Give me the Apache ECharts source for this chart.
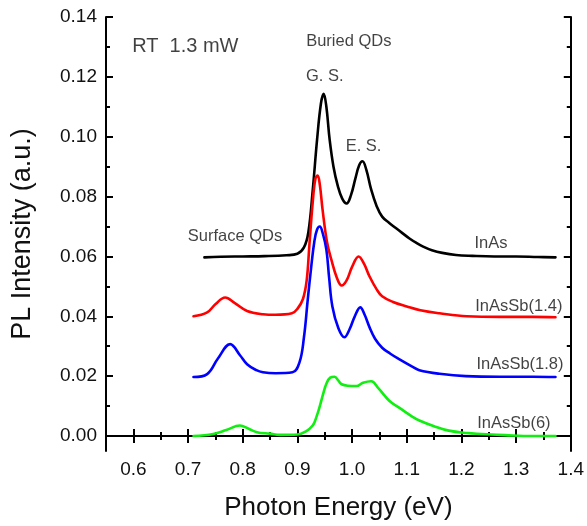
<!DOCTYPE html>
<html>
<head>
<meta charset="utf-8">
<script src="https://cdn.jsdelivr.net/npm/echarts@6/dist/echarts.min.js"></script>
<style>
  html, body { margin: 0; padding: 0; background: #fff; }
  #main { width: 587px; height: 526px; }
</style>
</head>
<body>
<div id="main"></div>
<script>
// tick values
var xMajor = [0.6, 0.7, 0.8, 0.9, 1.0, 1.1, 1.2, 1.3, 1.4];
var xMinor = [0.55, 0.65, 0.75, 0.85, 0.95, 1.05, 1.15, 1.25, 1.35];
var yMajor = [0, 0.02, 0.04, 0.06, 0.08, 0.10, 0.12, 0.14];
var yMinor = [0.01, 0.03, 0.05, 0.07, 0.09, 0.11, 0.13];

// InAs (black)
var inAsX = [0.73, 0.76, 0.80, 0.84, 0.88, 0.90, 0.912, 0.92, 0.928, 0.936, 0.943, 0.948, 0.953, 0.959, 0.966, 0.974, 0.982, 0.99, 0.998, 1.006, 1.013, 1.019, 1.026, 1.035, 1.045, 1.055, 1.068, 1.08, 1.092, 1.105, 1.117, 1.13, 1.146, 1.165, 1.19, 1.22, 1.26, 1.30, 1.34, 1.372];
var inAsY = [0.0597, 0.0599, 0.0600, 0.0601, 0.0604, 0.0609, 0.0630, 0.0680, 0.0820, 0.0990, 0.1110, 0.1143, 0.1100, 0.0990, 0.0900, 0.0835, 0.0793, 0.0777, 0.0805, 0.0860, 0.0905, 0.0918, 0.0890, 0.0823, 0.0768, 0.0733, 0.0712, 0.0695, 0.0678, 0.0660, 0.0646, 0.0633, 0.0621, 0.0612, 0.0605, 0.0602, 0.0600, 0.0600, 0.0598, 0.0597];

// InAsSb(1.4) (red)
var sb14X = [0.71, 0.735, 0.75, 0.768, 0.785, 0.808, 0.837, 0.86, 0.89, 0.90, 0.91, 0.917, 0.922, 0.928, 0.933, 0.937, 0.941, 0.946, 0.954, 0.962, 0.972, 0.981, 0.99, 1.0, 1.012, 1.022, 1.032, 1.045, 1.055, 1.075, 1.1, 1.125, 1.16, 1.21, 1.27, 1.33, 1.372];
var sb14Y = [0.0400, 0.0413, 0.0440, 0.0463, 0.0445, 0.0418, 0.0407, 0.0405, 0.0410, 0.0425, 0.0457, 0.0520, 0.0640, 0.0780, 0.0860, 0.0870, 0.0840, 0.0757, 0.0650, 0.0590, 0.0530, 0.0503, 0.0520, 0.0565, 0.0600, 0.0575, 0.0533, 0.0490, 0.0467, 0.0448, 0.0433, 0.0420, 0.0410, 0.0400, 0.0398, 0.0398, 0.0397];

// InAsSb(1.8) (blue)
var sb18X = [0.71, 0.735, 0.755, 0.777, 0.795, 0.808, 0.825, 0.837, 0.86, 0.891, 0.904, 0.912, 0.919, 0.925, 0.931, 0.936, 0.941, 0.946, 0.953, 0.958, 0.964, 0.975, 0.986, 0.995, 1.005, 1.015, 1.023, 1.032, 1.042, 1.055, 1.07, 1.086, 1.11, 1.123, 1.16, 1.208, 1.27, 1.33, 1.372];
var sb18Y = [0.0197, 0.0207, 0.0260, 0.0307, 0.0270, 0.0240, 0.0220, 0.0213, 0.0210, 0.0213, 0.0247, 0.0330, 0.0457, 0.0560, 0.0650, 0.0690, 0.0700, 0.0680, 0.0623, 0.0530, 0.0433, 0.0360, 0.0330, 0.0355, 0.0400, 0.0430, 0.0405, 0.0363, 0.0325, 0.0295, 0.0275, 0.0257, 0.0232, 0.0220, 0.0208, 0.0200, 0.0198, 0.0198, 0.0197];

// InAsSb(6) (green)
var sb6X = [0.71, 0.746, 0.77, 0.795, 0.81, 0.826, 0.85, 0.868, 0.90, 0.915, 0.928, 0.935, 0.941, 0.947, 0.953, 0.96, 0.968, 0.975, 0.981, 0.992, 1.008, 1.02, 1.035, 1.048, 1.068, 1.086, 1.11, 1.123, 1.15, 1.177, 1.21, 1.237, 1.28, 1.33, 1.372];
var sb6Y = [0.0000, 0.0007, 0.0020, 0.0035, 0.0025, 0.0013, 0.0008, 0.0004, 0.0005, 0.0015, 0.0035, 0.0065, 0.0100, 0.0140, 0.0175, 0.0195, 0.0198, 0.0185, 0.0173, 0.0168, 0.0167, 0.0178, 0.0183, 0.0160, 0.0118, 0.0095, 0.0065, 0.0052, 0.0033, 0.0018, 0.0010, 0.0007, 0.0003, 0.0000, 0.0000];

// text annotations [x, y, text]
var notes = [
    [0.695, 0.1303, 'RT  1.3 mW'],
    [0.994, 0.1317, 'Buried QDs'],
    [0.950, 0.1200, 'G. S.'],
    [1.021, 0.0967, 'E. S.'],
    [0.786, 0.0667, 'Surface QDs'],
    [1.254, 0.0643, 'InAs'],
    [1.305, 0.0433, 'InAsSb(1.4)'],
    [1.307, 0.0240, 'InAsSb(1.8)'],
    [1.296, 0.0043, 'InAsSb(6)']
];

function pairs(xs, ys) {
    var out = [];
    for (var i = 0; i < xs.length; i++) out.push([xs[i], ys[i]]);
    return out;
}

var FONT = '"Liberation Sans", Arial, sans-serif';
var myChart = echarts.init(document.getElementById('main'));

var xBase = { type: 'value', min: 0.55, max: 1.4, gridIndex: 0, splitLine: { show: false } };
var yBase = { type: 'value', min: -0.005, max: 0.14, gridIndex: 0, splitLine: { show: false } };
var lineStyle = { color: '#000', width: 2 };

function lineSeries(name, xs, ys, color) {
    return {
        name: name,
        type: 'line',
        data: pairs(xs, ys),
        showSymbol: false,
        smooth: 0.4,
        lineStyle: { color: color, width: 2.6, join: 'round', cap: 'round' },
        itemStyle: { color: color },
        silent: true,
        z: 3
    };
}

var option = {
    animation: false,
    backgroundColor: '#fff',
    textStyle: { fontFamily: FONT },
    grid: { left: 106, right: 14, top: 17, bottom: 74, containLabel: false },
    xAxis: [
        Object.assign({}, xBase, {
            position: 'bottom',
            name: 'Photon Energy (eV)',
            nameLocation: 'middle',
            nameGap: 44,
            nameTextStyle: { fontSize: 26, color: '#111', fontFamily: FONT },
            axisLine: { show: true, lineStyle: lineStyle },
            axisTick: { show: true, inside: true, length: 7, lineStyle: lineStyle, customValues: xMajor },
            axisLabel: {
                show: true, margin: 9, fontSize: 19, color: '#111', fontFamily: FONT,
                customValues: xMajor,
                formatter: function (v) { return v.toFixed(1); }
            }
        }),
        Object.assign({}, xBase, {
            position: 'bottom',
            axisLine: { show: false },
            axisTick: { show: true, inside: true, length: 4, lineStyle: lineStyle, customValues: xMinor },
            axisLabel: { show: false }
        }),
        Object.assign({}, xBase, {
            position: 'top',
            axisLine: { show: true, lineStyle: lineStyle },
            axisTick: { show: true, inside: true, length: 7, lineStyle: lineStyle, customValues: xMajor },
            axisLabel: { show: false }
        }),
        Object.assign({}, xBase, {
            position: 'top',
            axisLine: { show: false },
            axisTick: { show: true, inside: true, length: 4, lineStyle: lineStyle, customValues: xMinor },
            axisLabel: { show: false }
        })
    ],
    yAxis: [
        Object.assign({}, yBase, {
            position: 'left',
            name: 'PL Intensity (a.u.)',
            nameLocation: 'middle',
            nameGap: 70,
            nameTextStyle: { fontSize: 27, color: '#111', fontFamily: FONT },
            axisLine: { show: true, lineStyle: lineStyle },
            axisTick: { show: true, inside: true, length: 7, lineStyle: lineStyle, customValues: yMajor },
            axisLabel: {
                show: true, margin: 9, fontSize: 19, color: '#111', fontFamily: FONT,
                customValues: yMajor,
                formatter: function (v) { return v.toFixed(2); }
            }
        }),
        Object.assign({}, yBase, {
            position: 'left',
            axisLine: { show: false },
            axisTick: { show: true, inside: true, length: 4, lineStyle: lineStyle, customValues: yMinor },
            axisLabel: { show: false }
        }),
        Object.assign({}, yBase, {
            position: 'right',
            axisLine: { show: true, lineStyle: lineStyle },
            axisTick: { show: true, inside: true, length: 7, lineStyle: lineStyle, customValues: yMajor },
            axisLabel: { show: false }
        }),
        Object.assign({}, yBase, {
            position: 'right',
            axisLine: { show: false },
            axisTick: { show: true, inside: true, length: 4, lineStyle: lineStyle, customValues: yMinor },
            axisLabel: { show: false }
        })
    ],
    series: [
        lineSeries('InAs', inAsX, inAsY, '#000000'),
        lineSeries('InAsSb(1.4)', sb14X, sb14Y, '#ff0000'),
        lineSeries('InAsSb(1.8)', sb18X, sb18Y, '#0000ff'),
        lineSeries('InAsSb(6)', sb6X, sb6Y, '#11ee11'),
        {
            type: 'scatter',
            symbolSize: 0,
            silent: true,
            z: 5,
            data: notes.map(function (n, i) {
                var item = { value: [n[0], n[1]], name: n[2] };
                // the power note is set larger than the others
                if (i === 0) item.label = { fontSize: 20 };
                return item;
            }),
            label: {
                show: true,
                position: 'inside',
                formatter: function (p) { return p.name; },
                fontFamily: FONT,
                fontSize: 16.5,
                color: '#111'
            }
        }
    ]
};

myChart.setOption(option);
</script>
</body>
</html>
